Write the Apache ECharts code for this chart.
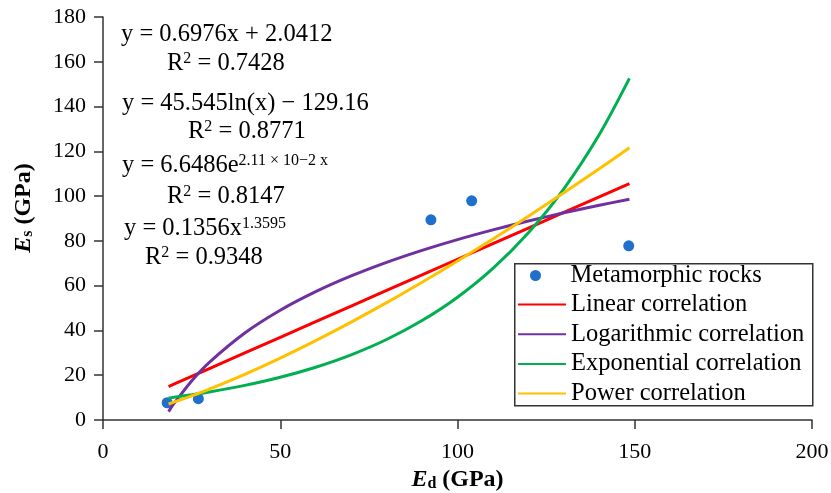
<!DOCTYPE html>
<html>
<head>
<meta charset="utf-8">
<script src="https://cdn.jsdelivr.net/npm/echarts@6/dist/echarts.min.js"></script>
<style>html,body{margin:0;padding:0;background:#fff}#c{width:831px;height:493px}</style>
</head>
<body>
<div id="c"></div>
<script>
// Measured points (Ed, Es)
var rockEd = [18.1, 26.9, 92.5, 104.0, 148.3];
var rockEs = [7.7, 9.5, 89.4, 97.9, 77.8];

// Trend curves read along the fitted range
var fitX = [18.5, 20, 25, 30, 40, 50, 60, 70, 80, 90, 100, 110, 120, 130, 140, 148.5];
var linearY = [14.95, 15.99, 19.48, 22.97, 29.95, 36.92, 43.90, 50.87, 57.85, 64.82, 71.80, 78.78, 85.75, 92.73, 99.70, 105.63];
var logY = [3.73, 7.28, 17.44, 25.75, 38.85, 49.01, 57.32, 64.34, 70.42, 75.78, 80.58, 84.92, 88.89, 92.53, 95.91, 98.59];
var expY = [9.82, 10.14, 11.27, 12.52, 15.46, 19.09, 23.58, 29.12, 35.96, 44.41, 54.84, 67.72, 83.63, 103.27, 127.53, 152.59];
var powerY = [7.16, 7.96, 10.78, 13.82, 20.43, 27.67, 35.45, 43.72, 52.42, 61.55, 71.01, 80.83, 90.99, 101.46, 112.21, 121.58];

var seriesNames = ['Metamorphic rocks', 'Linear correlation', 'Logarithmic correlation', 'Exponential correlation', 'Power correlation'];
var xTicks = [0, 50, 100, 150, 200];
var yTicks = [0, 20, 40, 60, 80, 100, 120, 140, 160, 180];

function pairs(xs, ys) { return xs.map(function (x, i) { return [x, ys[i]]; }); }

var FONT = '"Liberation Serif", "Times New Roman", serif';
var chart = echarts.init(document.getElementById('c'));

var eqFont = 24.5;
var rich = {
  a: { fontFamily: FONT, fontSize: eqFont, color: '#000' },
  s: { fontFamily: FONT, fontSize: 16, color: '#000', verticalAlign: 'top' }
};
function eqText(text, x, y) {
  return {
    type: 'text', left: x, top: y - 11, z: 100,
    style: { text: text, rich: rich, fontFamily: FONT, fontSize: eqFont, fill: '#000' }
  };
}

var legendText = { fontFamily: FONT, fontSize: 24.5, color: '#000', lineHeight: 24 };
var option = {
  animation: false,
  backgroundColor: '#fff',
  grid: { left: 103, right: 19, top: 17, bottom: 73, containLabel: false, outerBoundsMode: 'none' },
  xAxis: {
    type: 'value', min: 0, max: 200, interval: 50,
    splitLine: { show: false },
    axisLine: { show: true, onZero: false, lineStyle: { color: '#333', width: 1.5 } },
    axisTick: { show: true, length: 9, lineStyle: { color: '#333', width: 1.5 } },
    axisLabel: { fontFamily: FONT, fontSize: 22, color: '#000', margin: 21 },
    name: '{e|E}{d|d}{b| (GPa)}', nameLocation: 'middle', nameGap: 45,
    nameTextStyle: {
      rich: {
        e: { fontFamily: FONT, fontSize: 24, fontWeight: 'bold', fontStyle: 'italic', color: '#000' },
        d: { fontFamily: FONT, fontSize: 16, fontWeight: 'bold', color: '#000', verticalAlign: 'bottom' },
        b: { fontFamily: FONT, fontSize: 24, fontWeight: 'bold', color: '#000' }
      }
    }
  },
  yAxis: {
    type: 'value', min: 0, max: 180, interval: 20,
    splitLine: { show: false },
    axisLine: { show: true, onZero: false, lineStyle: { color: '#333', width: 1.5 } },
    axisTick: { show: true, length: 9, lineStyle: { color: '#333', width: 1.5 } },
    axisLabel: { fontFamily: FONT, fontSize: 22, color: '#000', margin: 17 }
  },
  legend: [
    {
      orient: 'vertical', left: 530, top: 263, padding: 0, z: 20,
      data: [{ name: seriesNames[0], icon: 'circle' }],
      itemWidth: 36, itemHeight: 11, itemGap: 5,
      textStyle: { fontFamily: FONT, fontSize: 24.5, color: '#000', lineHeight: 24, padding: [0, 0, 0, 12] }
    },
    {
      orient: 'vertical', left: 517, top: 292, padding: 0, z: 20,
      data: seriesNames.slice(1),
      itemWidth: 48, itemHeight: 3, itemGap: 4.7,
      itemStyle: { opacity: 0 },
      textStyle: legendText
    }
  ],
  graphic: [
    {
      type: 'rect', left: 514, top: 263, z: 0,
      shape: { width: 298, height: 142 },
      style: { fill: '#fff', stroke: '#333', lineWidth: 1.5 }
    },
    eqText('{a|y = 0.6976x + 2.0412}', 121, 33),
    eqText('{a|R}{s|2}{a| = 0.7428}', 167, 62),
    eqText('{a|y = 45.545ln(x) − 129.16}', 122, 102),
    eqText('{a|R}{s|2}{a| = 0.8771}', 188, 130),
    eqText('{a|y = 6.6486e}{s|2.11 × 10−2 x}', 122, 164),
    eqText('{a|R}{s|2}{a| = 0.8147}', 167, 195),
    eqText('{a|y = 0.1356x}{s|1.3595}', 124, 227),
    eqText('{a|R}{s|2}{a| = 0.9348}', 145, 256),
    {
      type: 'text', x: 23.5, y: 208, rotation: Math.PI / 2, z: 100,
      style: {
        text: '{e|E}{d|s}{b| (GPa)}', align: 'center', verticalAlign: 'middle',
        rich: {
          e: { fontFamily: FONT, fontSize: 24, fontWeight: 'bold', fontStyle: 'italic', fill: '#000' },
          d: { fontFamily: FONT, fontSize: 16, fontWeight: 'bold', fill: '#000', verticalAlign: 'bottom' },
          b: { fontFamily: FONT, fontSize: 24, fontWeight: 'bold', fill: '#000' }
        }
      }
    }
  ],
  series: [
    { name: seriesNames[1], type: 'line', data: pairs(fitX, linearY), showSymbol: false, symbol: 'none', lineStyle: { width: 3, color: '#ff0000' }, itemStyle: { color: '#ff0000' }, z: 2 },
    { name: seriesNames[2], type: 'line', data: pairs(fitX, logY), showSymbol: false, symbol: 'none', smooth: 0.3, lineStyle: { width: 3, color: '#7030a0' }, itemStyle: { color: '#7030a0' }, z: 2 },
    { name: seriesNames[3], type: 'line', data: pairs(fitX, expY), showSymbol: false, symbol: 'none', smooth: 0.3, lineStyle: { width: 3, color: '#00b050' }, itemStyle: { color: '#00b050' }, z: 2 },
    { name: seriesNames[4], type: 'line', data: pairs(fitX, powerY), showSymbol: false, symbol: 'none', smooth: 0.3, lineStyle: { width: 3, color: '#ffc000' }, itemStyle: { color: '#ffc000' }, z: 2 },
    { name: seriesNames[0], type: 'scatter', data: pairs(rockEd, rockEs), symbol: 'circle', symbolSize: 11, itemStyle: { color: '#1f6fcc', opacity: 1 }, z: 1 }
  ]
};
chart.setOption(option);
</script>
</body>
</html>
